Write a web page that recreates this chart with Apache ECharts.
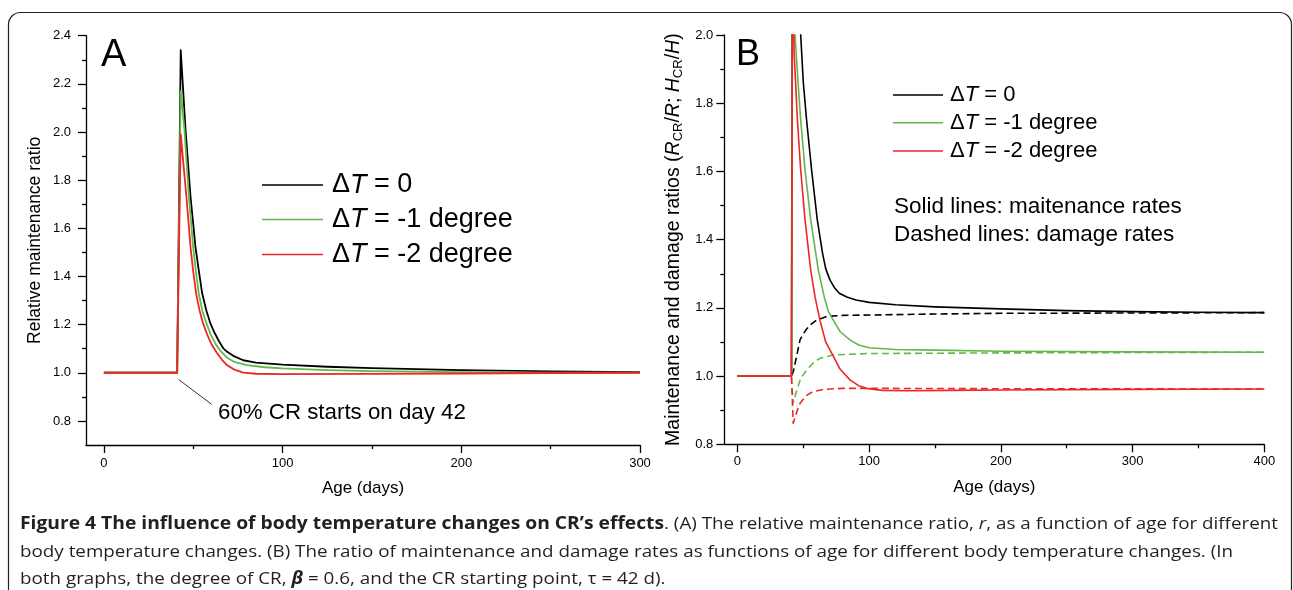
<!DOCTYPE html>
<html><head><meta charset="utf-8">
<script src="https://cdn.jsdelivr.net/npm/echarts@6/dist/echarts.min.js"></script>
<style>html,body{margin:0;padding:0;background:#fff}#c{width:1293px;height:590px}</style>
</head><body><div id="c"></div>
<script>
// ---------------- DATA ----------------
// Panel A: relative maintenance ratio vs age (days)
const A_dT0 = [[0,1.0],[41,1.0],[43,2.34],[45.7,2.01],[48.5,1.73],[51.3,1.52],[53,1.43],[55,1.33],[57.3,1.26],[59.6,1.205],[62,1.165],[64.5,1.13],[67,1.1],[69,1.087],[73,1.068],[78,1.052],[85,1.042],[100,1.034],[125,1.025],[150,1.019],[200,1.011],[250,1.006],[300,1.003]];
const A_dTm1 = [[0,1.0],[41,1.0],[43,2.17],[45.1,2.01],[47.6,1.73],[50,1.52],[51.5,1.42],[53.1,1.33],[55,1.26],[57.4,1.205],[60,1.155],[62.5,1.12],[65,1.093],[69,1.062],[73,1.045],[80,1.032],[90,1.023],[100,1.018],[125,1.011],[150,1.007],[200,1.003],[250,1.001],[300,1.0]];
const A_dTm2 = [[0,1.0],[41,1.0],[43,1.99],[46.2,1.73],[48.5,1.52],[50,1.42],[51.6,1.33],[53.5,1.26],[55.5,1.205],[58,1.155],[60.5,1.115],[63,1.085],[66,1.055],[69,1.031],[73,1.013],[78,1.001],[85,0.996],[100,0.994],[150,0.995],[200,0.997],[250,0.999],[300,1.0]];
// Panel B: maintenance (solid) and damage (dashed) ratios
const B_maint_dT0 = [[0,1.0],[41,1.0],[42,3.2],[45,2.45],[48,2.0],[50,1.86],[52.5,1.75],[56.3,1.604],[60.6,1.458],[64.6,1.36],[67,1.315],[70.2,1.282],[73.5,1.26],[77.3,1.243],[83,1.232],[90,1.223],[100,1.216],[120,1.209],[150,1.203],[200,1.197],[250,1.192],[300,1.189],[350,1.187],[400,1.186]];
const B_maint_dTm1 = [[0,1.0],[41,1.0],[42,2.8],[43.7,2.0],[46,1.86],[48,1.751],[51.3,1.604],[55.6,1.458],[61.4,1.311],[66,1.23],[69,1.19],[72.7,1.164],[78,1.13],[85.4,1.106],[92,1.091],[100,1.083],[120,1.078],[150,1.076],[200,1.073],[300,1.071],[400,1.07]];
const B_maint_dTm2 = [[0,1.0],[41,1.0],[42,2.5],[43,1.95],[45.5,1.751],[48,1.604],[51.3,1.458],[55.6,1.311],[59,1.23],[62.6,1.164],[67,1.1],[71.5,1.067],[78,1.02],[85.4,0.989],[92,0.972],[98,0.964],[110,0.958],[130,0.957],[160,0.958],[200,0.959],[300,0.961],[400,0.962]];
const B_damage_dT0 = [[0,1.0],[41,1.0],[42.5,1.015],[45,1.06],[47.5,1.106],[50,1.124],[52.5,1.138],[56,1.152],[60,1.164],[68,1.175],[80,1.178],[100,1.179],[150,1.182],[200,1.184],[300,1.185],[400,1.186]];
const B_damage_dTm1 = [[0,1.0],[41,1.0],[42.2,0.92],[45,0.958],[47.5,0.988],[51,1.01],[55,1.028],[58.5,1.042],[62.6,1.052],[72.7,1.062],[98,1.066],[150,1.067],[200,1.068],[300,1.069],[400,1.07]];
const B_damage_dTm2 = [[0,1.0],[41,1.0],[42.3,0.862],[45,0.895],[47.5,0.92],[52,0.942],[57,0.954],[65,0.961],[80,0.964],[100,0.964],[200,0.963],[400,0.962]];

// Axis ticks / labels
const A_xLabels = [0,100,200,300];
const A_xMinor = [50,150,250];
const A_yLabels = [0.8,1.0,1.2,1.4,1.6,1.8,2.0,2.2,2.4];
const A_yMinor = [0.9,1.1,1.3,1.5,1.7,1.9,2.1,2.3];
const B_xLabels = [0,100,200,300,400];
const B_xMinor = [50,150,250,350];
const B_yLabels = [0.8,1.0,1.2,1.4,1.6,1.8,2.0];
const B_yMinor = [0.9,1.1,1.3,1.5,1.7,1.9];

const legendNames = ['0','-1 degree','-2 degree'];
const COLORS = ['#000000','#62b849','#ee2626'];

// ---------------- CHART ----------------
const FF = "'Liberation Sans', Arial, sans-serif";
const chart = echarts.init(document.getElementById('c'), null, {renderer:'canvas'});

function xAxes(grid, min, max, labels, minor, fs, margin) {
  return [
    {gridIndex:grid, type:'value', min:min, max:max, position:'bottom', offset:0,
     axisLine:{show:true, onZero:false, lineStyle:{color:'#000', width:1.3}},
     axisTick:{show:true, customValues:labels, length:8, lineStyle:{color:'#000', width:1.3}},
     axisLabel:{show:true, customValues:labels, margin:margin, fontSize:fs, color:'#000', fontFamily:FF, formatter:v=>String(Math.round(v))},
     splitLine:{show:false},
     name:'Age (days)', nameLocation:'middle', nameGap:35, nameMoveOverlap:false,
     nameTextStyle:{fontSize:17, color:'#000', fontFamily:FF}},
    {gridIndex:grid, type:'value', min:min, max:max, position:'bottom', offset:0,
     axisLine:{show:false, onZero:false},
     axisTick:{show:true, customValues:minor, length:4, lineStyle:{color:'#000', width:1.3}},
     axisLabel:{show:false}, splitLine:{show:false}}
  ];
}
function yAxes(grid, min, max, labels, minor, fs, margin, name, nameGap, nameStyle) {
  return [
    {gridIndex:grid, type:'value', min:min, max:max, position:'left', offset:0,
     axisLine:{show:true, onZero:false, lineStyle:{color:'#000', width:1.3}},
     axisTick:{show:true, customValues:labels, length:8, lineStyle:{color:'#000', width:1.3}},
     axisLabel:{show:true, customValues:labels, margin:margin, fontSize:fs, color:'#000', fontFamily:FF, formatter:v=>v.toFixed(1)},
     splitLine:{show:false},
     name:name, nameLocation:'middle', nameGap:nameGap, nameRotate:90, nameMoveOverlap:false,
     nameTextStyle:nameStyle},
    {gridIndex:grid, type:'value', min:min, max:max, position:'left', offset:0,
     axisLine:{show:false, onZero:false},
     axisTick:{show:true, customValues:minor, length:4, lineStyle:{color:'#000', width:1.3}},
     axisLabel:{show:false}, splitLine:{show:false}}
  ];
}

function lineSeries(data, xi, yi, color, width, dashed, z) {
  return {type:'line', xAxisIndex:xi, yAxisIndex:yi, data:data, symbol:'none', showSymbol:false,
    clip:true, z:z, silent:true,
    lineStyle:{color:color, width:width, type: dashed ? [7,4] : 'solid', join:'round'}, itemStyle:{color:color}};
}

const seriesA = [A_dT0, A_dTm1, A_dTm2].map((d,i)=>lineSeries(d,0,0,COLORS[i],1.8,false,2+i));
seriesA.push({type:'line', xAxisIndex:0, yAxisIndex:0, data:[], silent:true,
  markLine:{
    silent:true, symbol:['none','arrow'], symbolSize:[0,8], label:{show:false},
    lineStyle:{color:'#333', width:1, type:'solid'},
    data:[[{coord:[60.3,0.869]},{coord:[41.8,0.972]}]]
  }});
const seriesB = [
  ...[B_damage_dT0,B_damage_dTm1,B_damage_dTm2].map((d,i)=>lineSeries(d,2,2,COLORS[i],1.6,true,2+i)),
  ...[B_maint_dT0,B_maint_dTm1,B_maint_dTm2].map((d,i)=>lineSeries(d,2,2,COLORS[i],1.6,false,5+i))
];

// Legends & annotations (graphic)
const g = [];
g.push({type:'rect', silent:true, shape:{x:8.5,y:12.5,width:1283,height:640,r:12}, style:{fill:'none', stroke:'#222', lineWidth:1.2}});
function legendRich(fs) {
  return {n:{fontSize:fs, fontFamily:FF, fill:'#000'}, i:{fontSize:fs, fontFamily:FF, fontStyle:'italic', fill:'#000'}};
}
const legA = {x1:262, x2:323, ys:[185,219.5,254.5], tx:332, fs:27};
const legB = {x1:893, x2:943, ys:[95,122.7,151], tx:950, fs:22};
[legA, legB].forEach(L=>{
  L.ys.forEach((y,i)=>{
    g.push({type:'line', silent:true, shape:{x1:L.x1,y1:y,x2:L.x2,y2:y}, style:{stroke:COLORS[i], lineWidth:1.6}});
    g.push({type:'text', silent:true, x:L.tx, y:y, style:{text:'{n|Δ}{i|T}{n| = '+legendNames[i]+'}', rich:legendRich(L.fs), verticalAlign:'middle', align:'left'}});
  });
});
g.push({type:'text', silent:true, x:894, y:207, style:{text:'Solid lines: maitenance rates', fontSize:22.5, fontFamily:FF, fill:'#000', verticalAlign:'middle'}});
g.push({type:'text', silent:true, x:894, y:234.5, style:{text:'Dashed lines: damage rates', fontSize:22.5, fontFamily:FF, fill:'#000', verticalAlign:'middle'}});
g.push({type:'text', silent:true, x:101, y:56, style:{text:'A', fontSize:38, fontFamily:FF, fill:'#000', verticalAlign:'middle'}});
g.push({type:'text', silent:true, x:736, y:55, style:{text:'B', fontSize:36, fontFamily:FF, fill:'#000', verticalAlign:'middle'}});
g.push({type:'text', silent:true, x:218, y:413, style:{text:'60% CR starts on day 42', fontSize:22.3, fontFamily:FF, fill:'#000', verticalAlign:'middle'}});

// Caption
const CF = "'Open Sans', sans-serif";
const CS = 17;
const capRich = {
  b:{fontSize:CS, fontFamily:CF, fontWeight:'bold', fill:'#231f20'},
  n:{fontSize:CS, fontFamily:CF, fill:'#231f20'},
  i:{fontSize:CS, fontFamily:CF, fontStyle:'italic', fill:'#231f20'},
  bi:{fontSize:CS, fontFamily:CF, fontStyle:'italic', fontWeight:'bold', fill:'#231f20'}
};
const capBold = [['b','Figure 4 The influence of body temperature changes on CR’s effects']];
const capRest1 = [['n','. (A) The relative maintenance ratio, '],['i','r'],['n',', as a function of age for different']];
const cap2 = [['n','body temperature changes. (B) The ratio of maintenance and damage rates as functions of age for different body temperature changes. (In']];
const cap3 = [['n','both graphs, the degree of CR, '],['bi','β'],['n',' = 0.6, and the CR starting point, τ = 42 d).']];
const ctx = document.createElement('canvas').getContext('2d');
function measure(segs){
  let w=0;
  segs.forEach(([k,t])=>{
    const st=capRich[k];
    ctx.font=(st.fontStyle||'normal')+' '+(st.fontWeight||'normal')+' '+CS+'px '+CF;
    w+=ctx.measureText(t).width;
  });
  return w;
}
const sReg = (1233-20)/measure(cap2);           // regular text scale from line 2
const restW = measure(capRest1)*sReg;
const boldEnd = 1278 - restW;
const sBold = (boldEnd-20)/measure(capBold);
function capText(segs,x,y,sc){
  g.push({type:'text', silent:true, x:x, y:y, scaleX:sc, originX:0,
    style:{text:segs.map(([k,t])=>'{'+k+'|'+t+'}').join(''), rich:capRich, verticalAlign:'middle', align:'left'}});
}
capText(capBold,20,524,sBold);
capText(capRest1,boldEnd,524,sReg);
capText(cap2,20,552,sReg);
capText(cap3,20,579,sReg);

const yNameB = '{n|Maintenance and damage ratios (}{i|R}{s|CR}{n|/}{i|R}{n|; }{i|H}{s|CR}{n|/}{i|H}{n|)}';

const option = {
  animation:false,
  backgroundColor:'#fff',
  grid:[
    {left:86, right:653, top:35.7, bottom:145, containLabel:false, outerBoundsMode:'none'},
    {left:724.3, right:28.7, top:35, bottom:145.7, containLabel:false, outerBoundsMode:'none'}
  ],
  xAxis:[...xAxes(0,-10,300,A_xLabels,A_xMinor,13,12), ...xAxes(1,-10,400,B_xLabels,B_xMinor,13,11)],
  yAxis:[
    ...yAxes(0,0.7,2.4,A_yLabels,A_yMinor,13,15,'Relative maintenance ratio',42,{fontSize:17.5,color:'#000',fontFamily:FF}),
    ...yAxes(1,0.8,2.0,B_yLabels,B_yMinor,13,11,yNameB,39,{fontSize:19.5,color:'#000',fontFamily:FF,
      rich:{n:{fontSize:19.5,fontFamily:FF,color:'#000',lineHeight:24},
            i:{fontSize:19.5,fontFamily:FF,color:'#000',fontStyle:'italic',lineHeight:24},
            s:{fontSize:13,fontFamily:FF,color:'#000',lineHeight:14,verticalAlign:'bottom'}}})
  ],
  series:[...seriesA, ...seriesB],
  graphic:g
};
chart.setOption(option);
</script></body></html>
